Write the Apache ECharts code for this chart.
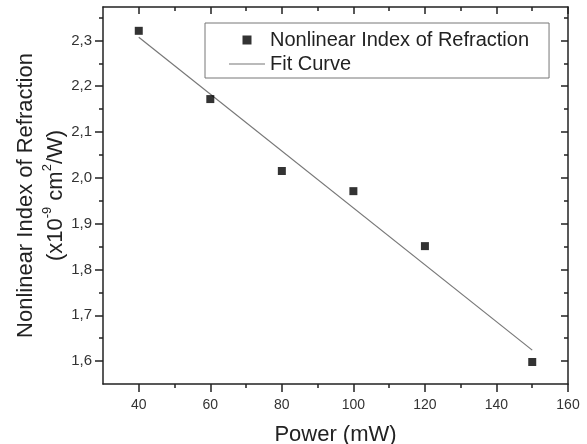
<!DOCTYPE html>
<html>
<head>
<meta charset="utf-8">
<script src="https://cdn.jsdelivr.net/npm/echarts@6/dist/echarts.min.js"></script>
<style>html,body{margin:0;padding:0;background:#fff}#c{width:587px;height:444px}</style>
</head>
<body>
<div id="c"></div>
<script>
// Data
const powers = [40, 60, 80, 100, 120, 150];
const nlIndex = [2.321, 2.172, 2.015, 1.971, 1.851, 1.598];
const fitX = [40, 150];
const fitY = [2.307, 1.624];
const xMajorTicks = [40, 60, 80, 100, 120, 140, 160];
const xMinorTicks = [50, 70, 90, 110, 130, 150];
const yMajorTicks = [1.6, 1.7, 1.8, 1.9, 2.0, 2.1, 2.2, 2.3];
const yMinorTicks = [1.65, 1.75, 1.85, 1.95, 2.05, 2.15, 2.25, 2.35];

const FONT = 'Liberation Sans, Arial, sans-serif';
const AX = '#222';
const X_MIN = 30, X_MAX = 160, Y_MIN = 1.55, Y_MAX = 2.373;

function xAxisDef(pos, ticks, len, inside, showLine, extra) {
  return Object.assign({
    type: 'value', position: pos, min: X_MIN, max: X_MAX, gridIndex: 0,
    axisLine: { show: showLine, onZero: false, lineStyle: { color: AX, width: 1.5 } },
    axisTick: { show: true, customValues: ticks, length: len, inside: inside, lineStyle: { color: AX, width: 1.5 } },
    axisLabel: { show: false },
    splitLine: { show: false }
  }, extra || {});
}
function yAxisDef(pos, ticks, len, inside, showLine, extra) {
  return Object.assign({
    type: 'value', position: pos, min: Y_MIN, max: Y_MAX, gridIndex: 0,
    axisLine: { show: showLine, onZero: false, lineStyle: { color: AX, width: 1.5 } },
    axisTick: { show: true, customValues: ticks, length: len, inside: inside, lineStyle: { color: AX, width: 1.5 } },
    axisLabel: { show: false },
    splitLine: { show: false }
  }, extra || {});
}

const chart = echarts.init(document.getElementById('c'), null, { renderer: 'canvas' });
chart.setOption({
  animation: false,
  backgroundColor: '#fff',
  textStyle: { fontFamily: FONT },
  grid: { left: 103, right: 19, top: 7, bottom: 60, containLabel: false, outerBoundsMode: 'none' },
  legend: {
    orient: 'vertical',
    left: 205, top: 23,
    padding: [7, 20, 4, 24],
    itemGap: 4,
    itemWidth: 36, itemHeight: 9,
    symbolKeepAspect: true,
    borderColor: '#777', borderWidth: 1, borderRadius: 0,
    backgroundColor: '#fff',
    textStyle: { fontSize: 20, color: '#222', fontFamily: FONT, lineHeight: 20 },
    data: [
      { name: 'Nonlinear Index of Refraction', icon: 'path://M0,0H10V10H0Z' },
      { name: 'Fit Curve', icon: 'path://M0,0H36V1H0Z' }
    ]
  },
  xAxis: [
    xAxisDef('bottom', xMajorTicks, 8, false, true, {
      axisLabel: { show: true, customValues: xMajorTicks, margin: 14, fontSize: 14, color: '#333', fontFamily: FONT },
      name: 'Power (mW)', nameLocation: 'middle', nameGap: 40, nameMoveOverlap: false,
      nameTextStyle: { fontSize: 22, color: '#222', fontFamily: FONT }
    }),
    xAxisDef('bottom', xMinorTicks, 4, false, false),
    xAxisDef('top', xMajorTicks, 7, true, true),
    xAxisDef('top', xMinorTicks, 4, true, false)
  ],
  yAxis: [
    yAxisDef('left', yMajorTicks, 8, false, true, {
      axisLabel: {
        show: true, customValues: yMajorTicks, margin: 11, fontSize: 15, color: '#333', fontFamily: FONT,
        formatter: v => v.toFixed(1).replace('.', ',')
      },
      name: 'Nonlinear Index of Refraction\n(x10{s|-9} cm{s|2}/W)',
      nameLocation: 'middle', nameGap: 32, nameRotate: 90, nameMoveOverlap: false,
      nameTextStyle: {
        fontSize: 22, color: '#222', fontFamily: FONT, lineHeight: 30, align: 'center',
        rich: { s: { fontSize: 13, lineHeight: 14, verticalAlign: 'top', color: '#222', fontFamily: FONT } }
      }
    }),
    yAxisDef('left', yMinorTicks, 4, false, false),
    yAxisDef('right', yMajorTicks, 7, true, true),
    yAxisDef('right', yMinorTicks, 4, true, false)
  ],
  series: [
    {
      name: 'Fit Curve', type: 'line', xAxisIndex: 0, yAxisIndex: 0,
      data: fitX.map((x, i) => [x, fitY[i]]),
      symbol: 'none', showSymbol: false,
      lineStyle: { color: '#777', width: 1.2 },
      itemStyle: { color: '#777' },
      z: 2
    },
    {
      name: 'Nonlinear Index of Refraction', type: 'scatter', xAxisIndex: 0, yAxisIndex: 0,
      data: powers.map((x, i) => [x, nlIndex[i]]),
      symbol: 'rect', symbolSize: 8,
      itemStyle: { color: '#000' },
      z: 3
    }
  ]
});
</script>
</body>
</html>
